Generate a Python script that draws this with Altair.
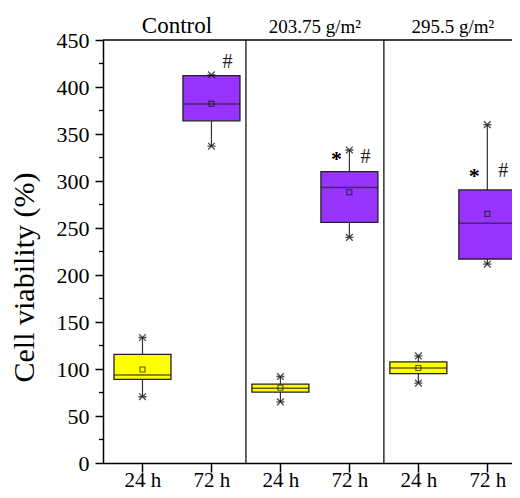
import altair as alt
import pandas as pd

# ---- data ----
positions = [0.5, 1.5, 2.5, 3.5, 4.5, 5.5]
time_labels = ["24 h", "72 h", "24 h", "72 h", "24 h", "72 h"]
box_min = [70.5, 337, 65, 240, 85, 211.5]
box_q1 = [89, 364, 75.5, 256, 95, 217]
box_med = [93.5, 382, 79.5, 293, 101, 255]
box_mean = [99.5, 382, 80, 288, 101, 265]
box_q3 = [115.5, 412, 84, 310, 107.5, 290.5]
box_max = [133.5, 413, 92, 333, 114, 360]
box_fill = ["#FFFF00", "#9933FF", "#FFFF00", "#9933FF", "#FFFF00", "#9933FF"]

panel_centers = [1, 3, 5]
panel_titles = ["Control", "203.75 g/m²", "295.5 g/m²"]
panel_title_sizes = [23, 19, 19]
dividers = [2, 4]
y_ticks = list(range(0, 451, 50))
minor_ticks = list(range(25, 450, 50))

hash_pos = [1.5, 3.5, 5.5]
hash_y = [420, 319, 304]
star_pos = [3.5, 5.5]
star_y = [315.6, 298.4]

FONT = "Liberation Serif"

boxes = pd.DataFrame({
    "pos": positions, "time": time_labels, "mn": box_min, "q1": box_q1,
    "med": box_med, "mean": box_mean, "q3": box_q3, "mx": box_max, "fill": box_fill,
})
titles = pd.DataFrame({"pos": panel_centers, "title": panel_titles, "fs": panel_title_sizes})
divs = pd.DataFrame({"pos": dividers})
minors = pd.DataFrame({"v": minor_ticks})
hashes = pd.DataFrame({"pos": hash_pos, "v": hash_y, "t": ["#"] * len(hash_pos)})
stars = pd.DataFrame({"pos": star_pos, "v": star_y, "t": ["*"] * len(star_pos)})

xscale = alt.Scale(domain=[0, 5.785], nice=False, zero=False)
xaxis = alt.Axis(
    values=positions, title=None, grid=False,
    labelExpr="datum.value % 2 < 1 ? '24 h' : '72 h'",
    labelFont=FONT, labelFontSize=21, labelColor="black",
    tickSize=9, tickWidth=1.5, tickColor="black", labelPadding=-3,
    domainColor="black", domainWidth=1.5, labelFlush=False,
)
yscale = alt.Scale(domain=[0, 450], nice=False, zero=True)
yaxis = alt.Axis(
    values=y_ticks, title="Cell viability (%)", grid=False,
    labelFont=FONT, labelFontSize=22, labelColor="black",
    tickSize=8, tickWidth=1.5, tickColor="black", labelPadding=6,
    domainColor="black", domainWidth=1.5,
    titleFont=FONT, titleFontSize=30, titleFontWeight="normal", titleColor="black",
    titleX=-70, titleY=237, titleAngle=270, titleAlign="center", titleBaseline="alphabetic",
    labelFlush=False,
)


def X(field="pos"):
    return alt.X(f"{field}:Q", scale=xscale, axis=xaxis)


def Y(field):
    return alt.Y(f"{field}:Q", scale=yscale, axis=yaxis)


base = alt.Chart(boxes)

whisk_lo = base.mark_rule(color="#333", strokeWidth=1.2).encode(x=X(), y=Y("mn"), y2="q1:Q")
whisk_hi = base.mark_rule(color="#333", strokeWidth=1.2).encode(x=X(), y=Y("q3"), y2="mx:Q")
bars = base.mark_bar(size=57, stroke="#222", strokeWidth=1.3).encode(
    x=X(), y=Y("q1"), y2="q3:Q", fill=alt.Fill("fill:N", scale=None)
)
medians = base.mark_tick(orient="horizontal", size=57, thickness=1.5, color="#222").encode(
    x=X(), y=Y("med")
)
means = base.mark_point(shape="square", filled=False, size=25, color="#111", strokeWidth=1.1).encode(
    x=X(), y=Y("mean")
)
star_shape = "M-1,-1L1,1M1,-1L-1,1M-1.2,0L1.2,0"
mins_pts = base.mark_point(shape=star_shape, filled=False, size=45, color="black", strokeWidth=1.3).encode(
    x=X(), y=Y("mn")
)
maxs_pts = base.mark_point(shape=star_shape, filled=False, size=45, color="black", strokeWidth=1.3).encode(
    x=X(), y=Y("mx")
)

top_line = alt.Chart(pd.DataFrame({"v": [450]})).mark_rule(color="black", strokeWidth=1.5).encode(y=Y("v"))
div_lines = alt.Chart(divs).mark_rule(color="black", strokeWidth=1.2).encode(x=X())
minor_lines = alt.Chart(minors).mark_rule(color="black", strokeWidth=1.3).encode(
    y=Y("v"), x=alt.value(-4), x2=alt.value(0)
)

title_text = alt.Chart(titles).mark_text(font=FONT, baseline="alphabetic", align="center", color="black").encode(
    x=X(), y=alt.value(-7), text="title:N", size=alt.Size("fs:Q", scale=None, legend=None)
)
hash_text = alt.Chart(hashes).mark_text(font=FONT, fontSize=20, baseline="alphabetic", align="center", dx=16, color="#222").encode(
    x=X(), y=Y("v"), text="t:N"
)
star_text = alt.Chart(stars).mark_text(font=FONT, fontSize=22, fontWeight="bold", baseline="alphabetic", align="center", dx=-13, color="black").encode(
    x=X(), y=Y("v"), text="t:N"
)

chart = alt.layer(
    whisk_lo, whisk_hi, bars, medians, means, mins_pts, maxs_pts,
    top_line, div_lines, minor_lines, title_text, hash_text, star_text,
).properties(
    width=409, height=423,
    autosize=alt.AutoSizeParams(type="none"),
    padding={"left": 95, "top": 32, "right": 0, "bottom": 27},
    background="white",
).configure_view(stroke=None)

chart.save("out.html", embed_options={"renderer": "svg", "actions": False})
